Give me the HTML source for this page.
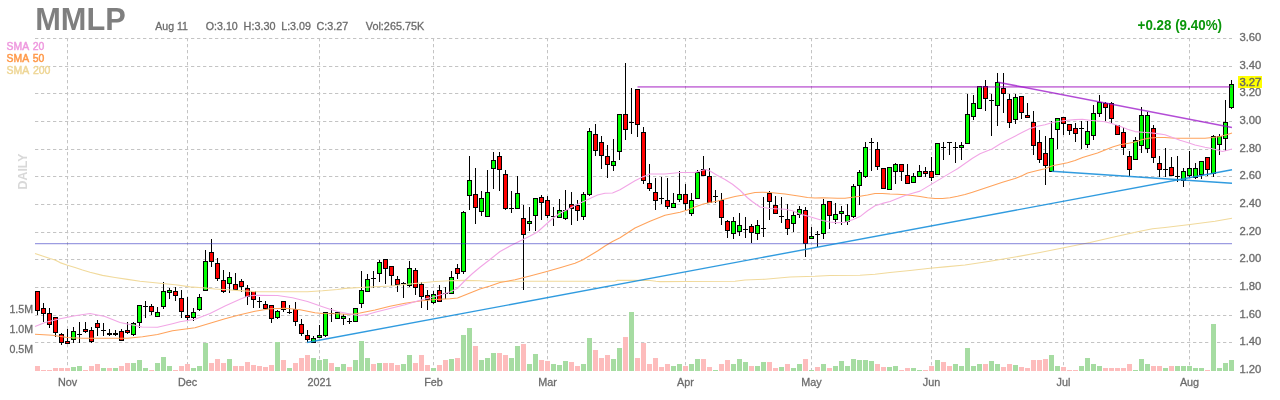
<!DOCTYPE html>
<html lang="en"><head><meta charset="utf-8"><title>MMLP daily chart</title>
<style>html,body{margin:0;padding:0;background:#fff}svg{display:block}text{font-family:"Liberation Sans",Arial,Helvetica,sans-serif}.ax{font-size:10px;fill:#6e6e6e}.hd{font-size:10.3px;fill:#6e6e6e}.g{stroke:#c4c4c4;stroke-width:1;stroke-dasharray:3.3 2.7;fill:none}.w{stroke:#000;stroke-width:1}.cg{fill:#00ff00;stroke:#000;stroke-width:1}.cr{fill:#ff0000;stroke:#000;stroke-width:1}.cd{fill:#000;stroke:#000;stroke-width:1}.vg{fill:#a6dca2}.vp{fill:#fdbcbc}</style></head><body>
<svg width="1280" height="400" viewBox="0 0 1280 400">
<rect width="1280" height="400" fill="#ffffff"/>
<g class="g">
<path d="M35 38.5 H1232"/>
<path d="M35 66.5 H1232"/>
<path d="M35 93.5 H1232"/>
<path d="M35 121.5 H1232"/>
<path d="M35 149.5 H1232"/>
<path d="M35 176.5 H1232"/>
<path d="M35 204.5 H1232"/>
<path d="M35 232.5 H1232"/>
<path d="M35 259.5 H1232"/>
<path d="M35 287.5 H1232"/>
<path d="M35 315.5 H1232"/>
<path d="M35 342.5 H1232"/>
<path d="M67.5 38 V371"/>
<path d="M187.5 38 V371"/>
<path d="M319.5 38 V371"/>
<path d="M433.5 38 V371"/>
<path d="M547.5 38 V371"/>
<path d="M685.5 38 V371"/>
<path d="M811.5 38 V371"/>
<path d="M931.5 38 V371"/>
<path d="M1063.5 38 V371"/>
<path d="M1189.5 38 V371"/>
</g>
<g>
<rect class="vp" x="35" y="366" width="5" height="5"/>
<rect class="vp" x="41" y="370" width="5" height="1"/>
<rect class="vp" x="47" y="370" width="5" height="1"/>
<rect class="vp" x="53" y="368" width="5" height="3"/>
<rect class="vp" x="59" y="368" width="5" height="3"/>
<rect class="vp" x="65" y="368" width="5" height="3"/>
<rect class="vg" x="71" y="367" width="5" height="4"/>
<rect class="vg" x="77" y="366" width="5" height="5"/>
<rect class="vp" x="83" y="370" width="5" height="1"/>
<rect class="vp" x="89" y="366" width="5" height="5"/>
<rect class="vp" x="95" y="364" width="5" height="7"/>
<rect class="vg" x="101" y="368" width="5" height="3"/>
<rect class="vp" x="107" y="368" width="5" height="3"/>
<rect class="vg" x="113" y="368" width="5" height="3"/>
<rect class="vp" x="119" y="366" width="5" height="5"/>
<rect class="vp" x="125" y="363" width="5" height="8"/>
<rect class="vg" x="131" y="363" width="5" height="8"/>
<rect class="vg" x="137" y="360" width="5" height="11"/>
<rect class="vg" x="143" y="368" width="5" height="3"/>
<rect class="vp" x="149" y="370" width="5" height="1"/>
<rect class="vg" x="155" y="363" width="5" height="8"/>
<rect class="vg" x="161" y="357" width="5" height="14"/>
<rect class="vg" x="167" y="366" width="5" height="5"/>
<rect class="vp" x="173" y="370" width="5" height="1"/>
<rect class="vp" x="179" y="366" width="5" height="5"/>
<rect class="vp" x="185" y="364" width="5" height="7"/>
<rect class="vg" x="191" y="368" width="5" height="3"/>
<rect class="vg" x="197" y="366" width="5" height="5"/>
<rect class="vg" x="203" y="343" width="5" height="28"/>
<rect class="vp" x="209" y="363" width="5" height="8"/>
<rect class="vp" x="215" y="359" width="5" height="12"/>
<rect class="vp" x="221" y="363" width="5" height="8"/>
<rect class="vg" x="227" y="359" width="5" height="12"/>
<rect class="vp" x="233" y="366" width="5" height="5"/>
<rect class="vp" x="239" y="366" width="5" height="5"/>
<rect class="vp" x="245" y="362" width="5" height="9"/>
<rect class="vp" x="251" y="365" width="5" height="6"/>
<rect class="vp" x="257" y="366" width="5" height="5"/>
<rect class="vp" x="263" y="367" width="5" height="4"/>
<rect class="vp" x="269" y="365" width="5" height="6"/>
<rect class="vg" x="275" y="342" width="5" height="29"/>
<rect class="vp" x="281" y="360" width="5" height="11"/>
<rect class="vg" x="287" y="368" width="5" height="3"/>
<rect class="vp" x="293" y="363" width="5" height="8"/>
<rect class="vp" x="299" y="358" width="5" height="13"/>
<rect class="vp" x="305" y="355" width="5" height="16"/>
<rect class="vg" x="311" y="358" width="5" height="13"/>
<rect class="vg" x="317" y="360" width="5" height="11"/>
<rect class="vg" x="323" y="359" width="5" height="12"/>
<rect class="vp" x="329" y="363" width="5" height="8"/>
<rect class="vg" x="335" y="367" width="5" height="4"/>
<rect class="vg" x="341" y="364" width="5" height="7"/>
<rect class="vp" x="347" y="367" width="5" height="4"/>
<rect class="vg" x="353" y="360" width="5" height="11"/>
<rect class="vg" x="359" y="341" width="5" height="30"/>
<rect class="vg" x="365" y="358" width="5" height="13"/>
<rect class="vp" x="371" y="364" width="5" height="7"/>
<rect class="vg" x="377" y="363" width="5" height="8"/>
<rect class="vp" x="383" y="363" width="5" height="8"/>
<rect class="vp" x="389" y="363" width="5" height="8"/>
<rect class="vp" x="395" y="365" width="5" height="6"/>
<rect class="vg" x="401" y="364" width="5" height="7"/>
<rect class="vg" x="407" y="355" width="5" height="16"/>
<rect class="vp" x="413" y="363" width="5" height="8"/>
<rect class="vp" x="419" y="355" width="5" height="16"/>
<rect class="vp" x="425" y="365" width="5" height="6"/>
<rect class="vg" x="431" y="368" width="5" height="3"/>
<rect class="vp" x="437" y="365" width="5" height="6"/>
<rect class="vp" x="443" y="360" width="5" height="11"/>
<rect class="vg" x="449" y="359" width="5" height="12"/>
<rect class="vp" x="455" y="358" width="5" height="13"/>
<rect class="vg" x="461" y="335" width="5" height="36"/>
<rect class="vg" x="467" y="328" width="5" height="43"/>
<rect class="vp" x="473" y="346" width="5" height="25"/>
<rect class="vg" x="479" y="360" width="5" height="11"/>
<rect class="vg" x="485" y="358" width="5" height="13"/>
<rect class="vg" x="491" y="353" width="5" height="18"/>
<rect class="vp" x="497" y="353" width="5" height="18"/>
<rect class="vp" x="503" y="355" width="5" height="16"/>
<rect class="vg" x="509" y="358" width="5" height="13"/>
<rect class="vg" x="515" y="346" width="5" height="25"/>
<rect class="vp" x="521" y="344" width="5" height="27"/>
<rect class="vg" x="527" y="364" width="5" height="7"/>
<rect class="vg" x="533" y="354" width="5" height="17"/>
<rect class="vp" x="539" y="360" width="5" height="11"/>
<rect class="vp" x="545" y="361" width="5" height="10"/>
<rect class="vg" x="551" y="364" width="5" height="7"/>
<rect class="vg" x="557" y="365" width="5" height="6"/>
<rect class="vg" x="563" y="361" width="5" height="10"/>
<rect class="vp" x="569" y="362" width="5" height="9"/>
<rect class="vp" x="575" y="366" width="5" height="5"/>
<rect class="vg" x="581" y="364" width="5" height="7"/>
<rect class="vg" x="587" y="338" width="5" height="33"/>
<rect class="vp" x="593" y="350" width="5" height="21"/>
<rect class="vp" x="599" y="358" width="5" height="13"/>
<rect class="vp" x="605" y="355" width="5" height="16"/>
<rect class="vg" x="611" y="359" width="5" height="12"/>
<rect class="vg" x="617" y="348" width="5" height="23"/>
<rect class="vp" x="623" y="337" width="5" height="34"/>
<rect class="vg" x="629" y="312" width="5" height="59"/>
<rect class="vp" x="635" y="358" width="5" height="13"/>
<rect class="vp" x="641" y="343" width="5" height="28"/>
<rect class="vp" x="647" y="364" width="5" height="7"/>
<rect class="vp" x="653" y="358" width="5" height="13"/>
<rect class="vp" x="659" y="367" width="5" height="4"/>
<rect class="vp" x="665" y="364" width="5" height="7"/>
<rect class="vg" x="671" y="366" width="5" height="5"/>
<rect class="vg" x="677" y="364" width="5" height="7"/>
<rect class="vp" x="683" y="366" width="5" height="5"/>
<rect class="vg" x="689" y="364" width="5" height="7"/>
<rect class="vg" x="695" y="359" width="5" height="12"/>
<rect class="vp" x="701" y="359" width="5" height="12"/>
<rect class="vp" x="707" y="367" width="5" height="4"/>
<rect class="vg" x="713" y="370" width="5" height="1"/>
<rect class="vp" x="719" y="364" width="5" height="7"/>
<rect class="vp" x="725" y="360" width="5" height="11"/>
<rect class="vg" x="731" y="364" width="5" height="7"/>
<rect class="vg" x="737" y="359" width="5" height="12"/>
<rect class="vg" x="743" y="362" width="5" height="9"/>
<rect class="vp" x="749" y="366" width="5" height="5"/>
<rect class="vg" x="755" y="366" width="5" height="5"/>
<rect class="vg" x="761" y="362" width="5" height="9"/>
<rect class="vp" x="767" y="362" width="5" height="9"/>
<rect class="vp" x="773" y="368" width="5" height="3"/>
<rect class="vg" x="779" y="367" width="5" height="4"/>
<rect class="vp" x="785" y="364" width="5" height="7"/>
<rect class="vg" x="791" y="368" width="5" height="3"/>
<rect class="vg" x="797" y="364" width="5" height="7"/>
<rect class="vp" x="803" y="359" width="5" height="12"/>
<rect class="vg" x="809" y="370" width="5" height="1"/>
<rect class="vp" x="815" y="367" width="5" height="4"/>
<rect class="vg" x="821" y="364" width="5" height="7"/>
<rect class="vp" x="827" y="368" width="5" height="3"/>
<rect class="vg" x="833" y="366" width="5" height="5"/>
<rect class="vg" x="839" y="361" width="5" height="10"/>
<rect class="vg" x="845" y="366" width="5" height="5"/>
<rect class="vg" x="851" y="359" width="5" height="12"/>
<rect class="vg" x="857" y="360" width="5" height="11"/>
<rect class="vg" x="863" y="360" width="5" height="11"/>
<rect class="vg" x="869" y="361" width="5" height="10"/>
<rect class="vp" x="875" y="364" width="5" height="7"/>
<rect class="vp" x="881" y="367" width="5" height="4"/>
<rect class="vg" x="887" y="367" width="5" height="4"/>
<rect class="vg" x="893" y="366" width="5" height="5"/>
<rect class="vp" x="899" y="370" width="5" height="1"/>
<rect class="vp" x="905" y="368" width="5" height="3"/>
<rect class="vg" x="911" y="368" width="5" height="3"/>
<rect class="vg" x="917" y="370" width="5" height="1"/>
<rect class="vp" x="923" y="370" width="5" height="1"/>
<rect class="vp" x="929" y="366" width="5" height="5"/>
<rect class="vg" x="935" y="360" width="5" height="11"/>
<rect class="vp" x="941" y="362" width="5" height="9"/>
<rect class="vp" x="947" y="366" width="5" height="5"/>
<rect class="vg" x="953" y="364" width="5" height="7"/>
<rect class="vg" x="959" y="366" width="5" height="5"/>
<rect class="vg" x="965" y="348" width="5" height="23"/>
<rect class="vg" x="971" y="366" width="5" height="5"/>
<rect class="vg" x="977" y="364" width="5" height="7"/>
<rect class="vp" x="983" y="364" width="5" height="7"/>
<rect class="vg" x="989" y="361" width="5" height="10"/>
<rect class="vg" x="995" y="364" width="5" height="7"/>
<rect class="vp" x="1001" y="367" width="5" height="4"/>
<rect class="vp" x="1007" y="364" width="5" height="7"/>
<rect class="vg" x="1013" y="365" width="5" height="6"/>
<rect class="vp" x="1019" y="367" width="5" height="4"/>
<rect class="vp" x="1025" y="368" width="5" height="3"/>
<rect class="vp" x="1031" y="360" width="5" height="11"/>
<rect class="vp" x="1037" y="360" width="5" height="11"/>
<rect class="vp" x="1043" y="359" width="5" height="12"/>
<rect class="vg" x="1049" y="355" width="5" height="16"/>
<rect class="vg" x="1055" y="366" width="5" height="5"/>
<rect class="vp" x="1061" y="367" width="5" height="4"/>
<rect class="vp" x="1067" y="370" width="5" height="1"/>
<rect class="vp" x="1073" y="370" width="5" height="1"/>
<rect class="vg" x="1079" y="366" width="5" height="5"/>
<rect class="vg" x="1085" y="358" width="5" height="13"/>
<rect class="vg" x="1091" y="364" width="5" height="7"/>
<rect class="vg" x="1097" y="366" width="5" height="5"/>
<rect class="vp" x="1103" y="368" width="5" height="3"/>
<rect class="vp" x="1109" y="368" width="5" height="3"/>
<rect class="vp" x="1115" y="368" width="5" height="3"/>
<rect class="vp" x="1121" y="368" width="5" height="3"/>
<rect class="vp" x="1127" y="364" width="5" height="7"/>
<rect class="vg" x="1133" y="370" width="5" height="1"/>
<rect class="vg" x="1139" y="359" width="5" height="12"/>
<rect class="vg" x="1145" y="364" width="5" height="7"/>
<rect class="vp" x="1151" y="366" width="5" height="5"/>
<rect class="vp" x="1157" y="366" width="5" height="5"/>
<rect class="vg" x="1163" y="368" width="5" height="3"/>
<rect class="vp" x="1169" y="366" width="5" height="5"/>
<rect class="vg" x="1175" y="366" width="5" height="5"/>
<rect class="vg" x="1181" y="366" width="5" height="5"/>
<rect class="vg" x="1187" y="366" width="5" height="5"/>
<rect class="vg" x="1193" y="368" width="5" height="3"/>
<rect class="vg" x="1199" y="368" width="5" height="3"/>
<rect class="vp" x="1205" y="370" width="5" height="1"/>
<rect class="vg" x="1211" y="324" width="5" height="47"/>
<rect class="vg" x="1217" y="368" width="5" height="3"/>
<rect class="vg" x="1223" y="363" width="5" height="8"/>
<rect class="vg" x="1229" y="360" width="5" height="11"/>
</g>
<g shape-rendering="crispEdges">
<path class="w" d="M37.5 291 V315"/>
<rect class="cr" x="35.5" y="291.5" width="4" height="19"/>
<path class="w" d="M43.5 303 V322"/>
<rect class="cr" x="41.5" y="308.5" width="4" height="5"/>
<path class="w" d="M49.5 308 V328"/>
<rect class="cr" x="47.5" y="313.5" width="4" height="11"/>
<path class="w" d="M55.5 317 V337"/>
<rect class="cr" x="53.5" y="317.5" width="4" height="15"/>
<path class="w" d="M61.5 333 V345"/>
<rect class="cr" x="59.5" y="334.5" width="4" height="8"/>
<path class="w" d="M67.5 329 V344"/>
<rect class="cr" x="65.5" y="341.5" width="4" height="2"/>
<path class="w" d="M73.5 327 V343"/>
<rect class="cg" x="71.5" y="331.5" width="4" height="8"/>
<path class="w" d="M79.5 322 V343"/>
<rect x="77" y="334" width="5" height="1" fill="#000"/>
<path class="w" d="M85.5 322 V333"/>
<rect class="cr" x="83.5" y="329.5" width="4" height="2"/>
<path class="w" d="M91.5 327 V343"/>
<rect class="cr" x="89.5" y="330.5" width="4" height="11"/>
<path class="w" d="M97.5 320 V336"/>
<rect class="cr" x="95.5" y="323.5" width="4" height="4"/>
<path class="w" d="M103.5 323 V336"/>
<rect x="101" y="330" width="5" height="1" fill="#000"/>
<path class="w" d="M109.5 329 V336"/>
<rect x="107" y="333" width="5" height="2" fill="#000"/>
<path class="w" d="M115.5 330 V336"/>
<rect x="113" y="333" width="5" height="2" fill="#000"/>
<path class="w" d="M121.5 329 V341"/>
<rect class="cr" x="119.5" y="331.5" width="4" height="9"/>
<path class="w" d="M127.5 322 V334"/>
<rect class="cr" x="125.5" y="330.5" width="4" height="2"/>
<path class="w" d="M133.5 322 V336"/>
<rect class="cg" x="131.5" y="323.5" width="4" height="11"/>
<path class="w" d="M139.5 305 V328"/>
<rect class="cg" x="137.5" y="305.5" width="4" height="17"/>
<path class="w" d="M145.5 301 V318"/>
<rect x="143" y="306" width="5" height="1" fill="#000"/>
<path class="w" d="M151.5 304 V315"/>
<rect class="cr" x="149.5" y="306.5" width="4" height="5"/>
<path class="w" d="M157.5 307 V317"/>
<rect class="cg" x="155.5" y="312.5" width="4" height="4"/>
<path class="w" d="M163.5 282 V309"/>
<rect class="cg" x="161.5" y="291.5" width="4" height="15"/>
<path class="w" d="M169.5 288 V299"/>
<rect class="cg" x="167.5" y="290.5" width="4" height="2"/>
<path class="w" d="M175.5 287 V301"/>
<rect class="cr" x="173.5" y="291.5" width="4" height="4"/>
<path class="w" d="M181.5 290 V318"/>
<rect class="cr" x="179.5" y="298.5" width="4" height="13"/>
<path class="w" d="M187.5 297 V321"/>
<rect class="cr" x="185.5" y="315.5" width="4" height="2"/>
<path class="w" d="M193.5 308 V321"/>
<rect class="cg" x="191.5" y="312.5" width="4" height="5"/>
<path class="w" d="M199.5 294 V311"/>
<rect class="cg" x="197.5" y="297.5" width="4" height="12"/>
<path class="w" d="M205.5 250 V291"/>
<rect class="cg" x="203.5" y="261.5" width="4" height="29"/>
<path class="w" d="M211.5 239 V267"/>
<rect class="cr" x="209.5" y="252.5" width="4" height="9"/>
<path class="w" d="M217.5 258 V281"/>
<rect class="cr" x="215.5" y="263.5" width="4" height="15"/>
<path class="w" d="M223.5 270 V293"/>
<rect class="cr" x="221.5" y="280.5" width="4" height="11"/>
<path class="w" d="M229.5 272 V293"/>
<rect class="cg" x="227.5" y="277.5" width="4" height="6"/>
<path class="w" d="M235.5 273 V290"/>
<rect class="cr" x="233.5" y="284.5" width="4" height="5"/>
<path class="w" d="M241.5 279 V292"/>
<rect class="cr" x="239.5" y="281.5" width="4" height="5"/>
<path class="w" d="M247.5 285 V305"/>
<rect class="cr" x="245.5" y="288.5" width="4" height="8"/>
<path class="w" d="M253.5 291 V308"/>
<rect class="cr" x="251.5" y="291.5" width="4" height="8"/>
<path class="w" d="M259.5 297 V308"/>
<rect x="257" y="301" width="5" height="1" fill="#000"/>
<path class="w" d="M265.5 301 V309"/>
<rect class="cr" x="263.5" y="304.5" width="4" height="4"/>
<path class="w" d="M271.5 305 V323"/>
<rect class="cr" x="269.5" y="305.5" width="4" height="13"/>
<path class="w" d="M277.5 310 V319"/>
<rect class="cg" x="275.5" y="311.5" width="4" height="6"/>
<path class="w" d="M283.5 301 V312"/>
<rect class="cr" x="281.5" y="301.5" width="4" height="8"/>
<path class="w" d="M289.5 305 V314"/>
<rect x="287" y="312" width="5" height="1" fill="#000"/>
<path class="w" d="M295.5 302 V326"/>
<rect class="cr" x="293.5" y="309.5" width="4" height="12"/>
<path class="w" d="M301.5 319 V336"/>
<rect class="cr" x="299.5" y="324.5" width="4" height="9"/>
<path class="w" d="M307.5 330 V342"/>
<rect class="cr" x="305.5" y="335.5" width="4" height="4"/>
<path class="w" d="M313.5 336 V343"/>
<rect class="cg" x="311.5" y="338.5" width="4" height="4"/>
<path class="w" d="M319.5 325 V338"/>
<rect class="cg" x="317.5" y="335.5" width="4" height="2"/>
<path class="w" d="M325.5 312 V337"/>
<rect class="cg" x="323.5" y="312.5" width="4" height="23"/>
<path class="w" d="M331.5 308 V322"/>
<rect x="329" y="313" width="5" height="1" fill="#000"/>
<path class="w" d="M337.5 312 V319"/>
<rect class="cg" x="335.5" y="312.5" width="4" height="6"/>
<path class="w" d="M343.5 314 V325"/>
<rect class="cg" x="341.5" y="316.5" width="4" height="2"/>
<path class="w" d="M349.5 318 V324"/>
<rect x="347" y="321" width="5" height="1" fill="#000"/>
<path class="w" d="M355.5 308 V322"/>
<rect class="cg" x="353.5" y="308.5" width="4" height="13"/>
<path class="w" d="M361.5 271 V308"/>
<rect class="cg" x="359.5" y="290.5" width="4" height="13"/>
<path class="w" d="M367.5 274 V292"/>
<rect class="cg" x="365.5" y="279.5" width="4" height="12"/>
<path class="w" d="M373.5 271 V288"/>
<rect x="371" y="278" width="5" height="1" fill="#000"/>
<path class="w" d="M379.5 260 V282"/>
<rect class="cg" x="377.5" y="262.5" width="4" height="11"/>
<path class="w" d="M385.5 259 V284"/>
<rect class="cr" x="383.5" y="259.5" width="4" height="9"/>
<path class="w" d="M391.5 266 V286"/>
<rect class="cr" x="389.5" y="266.5" width="4" height="9"/>
<path class="w" d="M397.5 276 V292"/>
<rect class="cr" x="395.5" y="279.5" width="4" height="5"/>
<path class="w" d="M403.5 282 V298"/>
<rect x="401" y="283" width="5" height="1" fill="#000"/>
<path class="w" d="M409.5 261 V287"/>
<rect class="cg" x="407.5" y="268.5" width="4" height="17"/>
<path class="w" d="M415.5 268 V295"/>
<rect class="cr" x="413.5" y="270.5" width="4" height="17"/>
<path class="w" d="M421.5 282 V308"/>
<rect class="cr" x="419.5" y="284.5" width="4" height="12"/>
<path class="w" d="M427.5 290 V310"/>
<rect class="cr" x="425.5" y="295.5" width="4" height="4"/>
<path class="w" d="M433.5 291 V304"/>
<rect class="cg" x="431.5" y="294.5" width="4" height="8"/>
<path class="w" d="M439.5 285 V302"/>
<rect class="cr" x="437.5" y="290.5" width="4" height="11"/>
<path class="w" d="M445.5 287 V299"/>
<rect x="443" y="293" width="5" height="1" fill="#000"/>
<path class="w" d="M451.5 271 V294"/>
<rect class="cg" x="449.5" y="277.5" width="4" height="16"/>
<path class="w" d="M457.5 264 V279"/>
<rect class="cr" x="455.5" y="268.5" width="4" height="5"/>
<path class="w" d="M463.5 211 V274"/>
<rect class="cg" x="461.5" y="212.5" width="4" height="59"/>
<path class="w" d="M469.5 156 V210"/>
<rect class="cg" x="467.5" y="180.5" width="4" height="15"/>
<path class="w" d="M475.5 168 V224"/>
<rect class="cr" x="473.5" y="194.5" width="4" height="13"/>
<path class="w" d="M481.5 191 V216"/>
<rect class="cg" x="479.5" y="198.5" width="4" height="13"/>
<path class="w" d="M487.5 170 V217"/>
<rect class="cg" x="485.5" y="192.5" width="4" height="24"/>
<path class="w" d="M493.5 152 V189"/>
<rect class="cg" x="491.5" y="160.5" width="4" height="8"/>
<path class="w" d="M499.5 152 V191"/>
<rect class="cr" x="497.5" y="156.5" width="4" height="13"/>
<path class="w" d="M505.5 170 V210"/>
<rect class="cr" x="503.5" y="174.5" width="4" height="34"/>
<path class="w" d="M511.5 191 V213"/>
<rect x="509" y="208" width="5" height="1" fill="#000"/>
<path class="w" d="M517.5 176 V209"/>
<rect class="cg" x="515.5" y="193.5" width="4" height="15"/>
<path class="w" d="M523.5 205 V290"/>
<rect class="cr" x="521.5" y="218.5" width="4" height="16"/>
<path class="w" d="M529.5 207 V231"/>
<rect class="cg" x="527.5" y="221.5" width="4" height="2"/>
<path class="w" d="M535.5 198 V231"/>
<rect class="cg" x="533.5" y="198.5" width="4" height="17"/>
<path class="w" d="M541.5 195 V220"/>
<rect class="cr" x="539.5" y="197.5" width="4" height="5"/>
<path class="w" d="M547.5 196 V218"/>
<rect class="cr" x="545.5" y="200.5" width="4" height="15"/>
<path class="w" d="M553.5 207 V226"/>
<rect x="551" y="216" width="5" height="1" fill="#000"/>
<path class="w" d="M559.5 199 V218"/>
<rect class="cg" x="557.5" y="210.5" width="4" height="7"/>
<path class="w" d="M565.5 190 V220"/>
<rect class="cg" x="563.5" y="210.5" width="4" height="8"/>
<path class="w" d="M571.5 192 V225"/>
<rect class="cr" x="569.5" y="204.5" width="4" height="4"/>
<path class="w" d="M577.5 200 V221"/>
<rect class="cr" x="575.5" y="205.5" width="4" height="5"/>
<path class="w" d="M583.5 192 V220"/>
<rect class="cg" x="581.5" y="194.5" width="4" height="22"/>
<path class="w" d="M589.5 128 V196"/>
<rect class="cg" x="587.5" y="131.5" width="4" height="63"/>
<path class="w" d="M595.5 124 V156"/>
<rect class="cr" x="593.5" y="134.5" width="4" height="16"/>
<path class="w" d="M601.5 136 V169"/>
<rect class="cr" x="599.5" y="142.5" width="4" height="13"/>
<path class="w" d="M607.5 145 V178"/>
<rect class="cr" x="605.5" y="156.5" width="4" height="8"/>
<path class="w" d="M613.5 139 V171"/>
<rect class="cg" x="611.5" y="161.5" width="4" height="4"/>
<path class="w" d="M619.5 114 V160"/>
<rect class="cg" x="617.5" y="114.5" width="4" height="37"/>
<path class="w" d="M625.5 63 V140"/>
<rect class="cr" x="623.5" y="114.5" width="4" height="15"/>
<path class="w" d="M631.5 88 V134"/>
<rect x="629" y="122" width="5" height="1" fill="#000"/>
<path class="w" d="M637.5 89 V137"/>
<rect class="cr" x="635.5" y="89.5" width="4" height="35"/>
<path class="w" d="M643.5 127 V184"/>
<rect class="cr" x="641.5" y="132.5" width="4" height="48"/>
<path class="w" d="M649.5 164 V191"/>
<rect class="cr" x="647.5" y="183.5" width="4" height="5"/>
<path class="w" d="M655.5 178 V210"/>
<rect class="cr" x="653.5" y="192.5" width="4" height="8"/>
<path class="w" d="M661.5 177 V204"/>
<rect x="659" y="198" width="5" height="1" fill="#000"/>
<path class="w" d="M667.5 178 V209"/>
<rect class="cr" x="665.5" y="200.5" width="4" height="6"/>
<path class="w" d="M673.5 193 V208"/>
<rect class="cg" x="671.5" y="203.5" width="4" height="4"/>
<path class="w" d="M679.5 171 V202"/>
<rect class="cg" x="677.5" y="194.5" width="4" height="5"/>
<path class="w" d="M685.5 184 V210"/>
<rect class="cr" x="683.5" y="194.5" width="4" height="9"/>
<path class="w" d="M691.5 193 V216"/>
<rect class="cg" x="689.5" y="200.5" width="4" height="13"/>
<path class="w" d="M697.5 170 V199"/>
<rect class="cg" x="695.5" y="172.5" width="4" height="26"/>
<path class="w" d="M703.5 156 V176"/>
<rect class="cr" x="701.5" y="169.5" width="4" height="6"/>
<path class="w" d="M709.5 168 V203"/>
<rect class="cr" x="707.5" y="176.5" width="4" height="26"/>
<path class="w" d="M715.5 190 V203"/>
<rect x="713" y="196" width="5" height="1" fill="#000"/>
<path class="w" d="M721.5 193 V225"/>
<rect class="cr" x="719.5" y="200.5" width="4" height="17"/>
<path class="w" d="M727.5 220 V238"/>
<rect class="cr" x="725.5" y="221.5" width="4" height="9"/>
<path class="w" d="M733.5 217 V239"/>
<rect class="cg" x="731.5" y="221.5" width="4" height="12"/>
<path class="w" d="M739.5 213 V236"/>
<rect class="cg" x="737.5" y="225.5" width="4" height="6"/>
<path class="w" d="M745.5 217 V238"/>
<rect x="743" y="229" width="5" height="1" fill="#000"/>
<path class="w" d="M751.5 224 V243"/>
<rect class="cr" x="749.5" y="226.5" width="4" height="6"/>
<path class="w" d="M757.5 220 V240"/>
<rect class="cg" x="755.5" y="225.5" width="4" height="8"/>
<path class="w" d="M763.5 197 V237"/>
<rect x="761" y="228" width="5" height="1" fill="#000"/>
<path class="w" d="M769.5 191 V220"/>
<rect class="cr" x="767.5" y="193.5" width="4" height="8"/>
<path class="w" d="M775.5 196 V214"/>
<rect class="cr" x="773.5" y="205.5" width="4" height="8"/>
<path class="w" d="M781.5 197 V223"/>
<rect x="779" y="216" width="5" height="1" fill="#000"/>
<path class="w" d="M787.5 204 V235"/>
<rect class="cr" x="785.5" y="219.5" width="4" height="9"/>
<path class="w" d="M793.5 211 V232"/>
<rect class="cg" x="791.5" y="215.5" width="4" height="8"/>
<path class="w" d="M799.5 206 V218"/>
<rect class="cg" x="797.5" y="209.5" width="4" height="5"/>
<path class="w" d="M805.5 207 V257"/>
<rect class="cr" x="803.5" y="210.5" width="4" height="33"/>
<path class="w" d="M811.5 227 V239"/>
<rect class="cg" x="809.5" y="236.5" width="4" height="2"/>
<path class="w" d="M817.5 231 V247"/>
<rect x="815" y="234" width="5" height="1" fill="#000"/>
<path class="w" d="M823.5 199 V239"/>
<rect class="cg" x="821.5" y="204.5" width="4" height="29"/>
<path class="w" d="M829.5 201 V229"/>
<rect class="cr" x="827.5" y="201.5" width="4" height="14"/>
<path class="w" d="M835.5 203 V224"/>
<rect class="cg" x="833.5" y="214.5" width="4" height="5"/>
<path class="w" d="M841.5 206 V225"/>
<rect class="cg" x="839.5" y="211.5" width="4" height="2"/>
<path class="w" d="M847.5 204 V225"/>
<rect class="cg" x="845.5" y="215.5" width="4" height="6"/>
<path class="w" d="M853.5 184 V218"/>
<rect class="cg" x="851.5" y="186.5" width="4" height="30"/>
<path class="w" d="M859.5 170 V205"/>
<rect class="cg" x="857.5" y="172.5" width="4" height="13"/>
<path class="w" d="M865.5 142 V178"/>
<rect class="cg" x="863.5" y="147.5" width="4" height="29"/>
<path class="w" d="M871.5 138 V171"/>
<rect x="869" y="142" width="5" height="1" fill="#000"/>
<path class="w" d="M877.5 142 V170"/>
<rect class="cr" x="875.5" y="149.5" width="4" height="17"/>
<path class="w" d="M883.5 168 V189"/>
<rect class="cr" x="881.5" y="168.5" width="4" height="20"/>
<path class="w" d="M889.5 167 V190"/>
<rect class="cg" x="887.5" y="167.5" width="4" height="22"/>
<path class="w" d="M895.5 163 V184"/>
<rect class="cg" x="893.5" y="164.5" width="4" height="7"/>
<path class="w" d="M901.5 164 V181"/>
<rect class="cr" x="899.5" y="164.5" width="4" height="7"/>
<path class="w" d="M907.5 164 V184"/>
<rect class="cr" x="905.5" y="175.5" width="4" height="8"/>
<path class="w" d="M913.5 173 V183"/>
<rect class="cg" x="911.5" y="176.5" width="4" height="6"/>
<path class="w" d="M919.5 165 V177"/>
<rect class="cg" x="917.5" y="171.5" width="4" height="5"/>
<path class="w" d="M925.5 167 V177"/>
<rect class="cr" x="923.5" y="171.5" width="4" height="2"/>
<path class="w" d="M931.5 157 V181"/>
<rect class="cr" x="929.5" y="171.5" width="4" height="6"/>
<path class="w" d="M937.5 143 V175"/>
<rect class="cg" x="935.5" y="143.5" width="4" height="31"/>
<path class="w" d="M943.5 142 V160"/>
<rect x="941" y="147" width="5" height="1" fill="#000"/>
<path class="w" d="M949.5 143 V155"/>
<rect x="947" y="142" width="5" height="1" fill="#000"/>
<path class="w" d="M955.5 142 V163"/>
<rect x="953" y="147" width="5" height="1" fill="#000"/>
<path class="w" d="M961.5 142 V160"/>
<rect class="cg" x="959.5" y="145.5" width="4" height="2"/>
<path class="w" d="M967.5 94 V144"/>
<rect class="cg" x="965.5" y="114.5" width="4" height="29"/>
<path class="w" d="M973.5 95 V120"/>
<rect class="cg" x="971.5" y="103.5" width="4" height="13"/>
<path class="w" d="M979.5 86 V109"/>
<rect class="cg" x="977.5" y="86.5" width="4" height="22"/>
<path class="w" d="M985.5 80 V111"/>
<rect class="cr" x="983.5" y="86.5" width="4" height="12"/>
<path class="w" d="M991.5 94 V136"/>
<rect x="989" y="100" width="5" height="1" fill="#000"/>
<path class="w" d="M997.5 73 V126"/>
<rect class="cg" x="995.5" y="82.5" width="4" height="23"/>
<path class="w" d="M1003.5 73 V113"/>
<rect class="cr" x="1001.5" y="88.5" width="4" height="5"/>
<path class="w" d="M1009.5 94 V128"/>
<rect class="cr" x="1007.5" y="99.5" width="4" height="23"/>
<path class="w" d="M1015.5 94 V124"/>
<rect class="cg" x="1013.5" y="97.5" width="4" height="22"/>
<path class="w" d="M1021.5 96 V119"/>
<rect class="cr" x="1019.5" y="96.5" width="4" height="16"/>
<path class="w" d="M1027.5 103 V118"/>
<rect class="cr" x="1025.5" y="115.5" width="4" height="2"/>
<path class="w" d="M1033.5 111 V155"/>
<rect class="cr" x="1031.5" y="122.5" width="4" height="23"/>
<path class="w" d="M1039.5 130 V163"/>
<rect class="cr" x="1037.5" y="142.5" width="4" height="17"/>
<path class="w" d="M1045.5 136 V185"/>
<rect class="cr" x="1043.5" y="153.5" width="4" height="12"/>
<path class="w" d="M1051.5 121 V172"/>
<rect class="cg" x="1049.5" y="138.5" width="4" height="33"/>
<path class="w" d="M1057.5 118 V149"/>
<rect class="cg" x="1055.5" y="118.5" width="4" height="11"/>
<path class="w" d="M1063.5 117 V135"/>
<rect class="cr" x="1061.5" y="117.5" width="4" height="6"/>
<path class="w" d="M1069.5 124 V135"/>
<rect class="cr" x="1067.5" y="124.5" width="4" height="6"/>
<path class="w" d="M1075.5 123 V142"/>
<rect class="cr" x="1073.5" y="128.5" width="4" height="5"/>
<path class="w" d="M1081.5 121 V149"/>
<rect x="1079" y="128" width="5" height="1" fill="#000"/>
<path class="w" d="M1087.5 121 V148"/>
<rect class="cg" x="1085.5" y="131.5" width="4" height="13"/>
<path class="w" d="M1093.5 105 V140"/>
<rect class="cg" x="1091.5" y="113.5" width="4" height="22"/>
<path class="w" d="M1099.5 95 V117"/>
<rect class="cg" x="1097.5" y="102.5" width="4" height="11"/>
<path class="w" d="M1105.5 102 V121"/>
<rect class="cr" x="1103.5" y="103.5" width="4" height="4"/>
<path class="w" d="M1111.5 102 V124"/>
<rect class="cr" x="1109.5" y="103.5" width="4" height="15"/>
<path class="w" d="M1117.5 125 V135"/>
<rect class="cr" x="1115.5" y="125.5" width="4" height="9"/>
<path class="w" d="M1123.5 127 V155"/>
<rect class="cr" x="1121.5" y="132.5" width="4" height="15"/>
<path class="w" d="M1129.5 151 V176"/>
<rect class="cr" x="1127.5" y="156.5" width="4" height="13"/>
<path class="w" d="M1135.5 137 V160"/>
<rect class="cg" x="1133.5" y="140.5" width="4" height="19"/>
<path class="w" d="M1141.5 107 V153"/>
<rect class="cg" x="1139.5" y="115.5" width="4" height="30"/>
<path class="w" d="M1147.5 112 V153"/>
<rect class="cg" x="1145.5" y="115.5" width="4" height="33"/>
<path class="w" d="M1153.5 125 V163"/>
<rect class="cr" x="1151.5" y="128.5" width="4" height="29"/>
<path class="w" d="M1159.5 156 V177"/>
<rect class="cr" x="1157.5" y="163.5" width="4" height="6"/>
<path class="w" d="M1165.5 148 V177"/>
<rect x="1163" y="169" width="5" height="1" fill="#000"/>
<path class="w" d="M1171.5 157 V176"/>
<rect class="cr" x="1169.5" y="167.5" width="4" height="8"/>
<path class="w" d="M1177.5 156 V182"/>
<rect x="1175" y="176" width="5" height="1" fill="#000"/>
<path class="w" d="M1183.5 168 V187"/>
<rect class="cg" x="1181.5" y="171.5" width="4" height="9"/>
<path class="w" d="M1189.5 151 V178"/>
<rect class="cg" x="1187.5" y="168.5" width="4" height="7"/>
<path class="w" d="M1195.5 163 V179"/>
<rect class="cg" x="1193.5" y="168.5" width="4" height="9"/>
<path class="w" d="M1201.5 161 V179"/>
<rect class="cg" x="1199.5" y="161.5" width="4" height="13"/>
<path class="w" d="M1207.5 157 V176"/>
<rect class="cr" x="1205.5" y="157.5" width="4" height="12"/>
<path class="w" d="M1213.5 135 V177"/>
<rect class="cg" x="1211.5" y="136.5" width="4" height="37"/>
<path class="w" d="M1219.5 134 V155"/>
<rect class="cg" x="1217.5" y="136.5" width="4" height="8"/>
<path class="w" d="M1225.5 100 V151"/>
<rect class="cg" x="1223.5" y="122.5" width="4" height="16"/>
<path class="w" d="M1231.5 80 V109"/>
<rect class="cg" x="1229.5" y="84.5" width="4" height="23"/>
</g>
<polyline points="35,253.5 42.5,256 50,258.5 55,260 60,262.6 67.5,265.2 75,267.5 82.5,270 90,272.3 102.5,275.4 115,277.5 127.5,279.4 140,281.25 152.5,282.5 165,283.75 177.5,285 190,286.9 202.5,287.75 215,289 227.5,289.75 240,290.6 250,291.25 255,291.6 285,291.75 307.5,291.75 322.5,290.8 337.5,289.5 345,288.4 360,287.5 375,286.75 390,286 405,284.5 420,283 435,281.5 450,280.75 465,280.4 480,280.75 490,281.5 512,281.25 615,281.25 617.5,280.4 635,280.2 650,280.5 656,281.25 660,281.6 685,281.5 735,281.25 745,280 765,279.2 790,277 815,276.3 830,275.5 860,275.25 875,274.25 890,272.5 910,270.5 930,268.25 945,266.9 965,265 990,261.25 1015,257 1040,252.5 1065,247.5 1090,242.5 1115,236.75 1140,231.25 1152.5,228.75 1165,227.5 1190,224.5 1215,221.25 1232,218.25" fill="none" stroke="#f1da9c" stroke-width="1.15" stroke-opacity="1" stroke-linejoin="round"/>
<polyline points="35,334.2 52.5,335.25 67.5,337.5 82.5,338.25 97.5,338.25 112.5,338.25 127.5,338.25 142.5,336.75 157.5,334.5 172.5,330.75 180,329.7 195,327.75 210,323.25 225,318.75 240,314.8 255,311.25 270,308.7 285,308.25 300,309.75 315,312.75 322.5,313.5 337.5,313.8 345,314.2 352.5,314.2 360,313 375,310 390,306.25 405,303.25 420,301 435,299.5 450,298.75 457.5,298 465,295 472.5,292 480,289 490,286 500,282.6 515,279.75 530,276 545,272 560,267.75 575,263.25 582.5,260 590,255.5 597.5,251 605,246 612.5,241.5 620,237.75 635,228 650,221.25 665,215.25 680,212.25 687.5,210 695,207 702.5,204.3 710,202.5 717.5,201 725,199 735,196.6 742,195.3 755,192.5 762.5,192.2 770,192.5 785,194 800,196.3 807.5,197.4 815,198.1 822.5,197.8 837.5,198.2 845,198.2 852.5,197.2 860,196.3 867.5,195 875,193.5 882.5,193.4 890,194.1 897.5,194.3 905,194.75 912.5,195.5 920,196.6 927.5,197.75 935,198.5 942.5,198.5 950,197.7 957.5,196.3 965,194.6 972.5,192.2 980,189.7 987.5,187.2 995,184.7 1002.5,182.2 1010,180 1015,178.6 1022.5,175.5 1027.5,173 1037.5,170.5 1045,168.75 1052.5,165.75 1060,164.25 1067.5,162.75 1075,160.4 1082.5,157.5 1090,155.25 1097.5,153 1105,150 1112.5,147 1120,144.8 1127.5,143.4 1135,141.9 1142.5,139.6 1150,138.1 1157.5,137.4 1165,137.4 1175,138.2 1190,138.25 1205,138.2 1212.5,137.6 1220,136.4 1227.5,134.5 1232,133" fill="none" stroke="#ffa35c" stroke-width="1.05" stroke-opacity="1" stroke-linejoin="round"/>
<polyline points="35,326.5 45,322.5 60,318.75 75,315.75 90,313.5 105,316.5 120,322.5 135,325.5 142,327 157.5,327.3 172.5,323.7 180,321.75 195,319.3 210,313.5 225,306 240,299.25 247.5,296.25 255,295.3 277.5,295.5 292.5,297.75 307.5,301.5 322.5,306.75 330,309.25 337.5,311.5 345,313 352.5,314.5 360,315.6 367.5,314.5 375,312.25 390,308.5 405,304.75 420,300.25 435,296.5 450,292 457.5,288.25 465,280.5 472.5,273.5 480,267.25 490,259.5 500,251.5 510,246 521,240.5 530,236 537.5,232 545,225.25 552.5,218.5 560,213.25 567.5,209.5 575,205.5 582.5,202 590,198.5 597.5,195 605,193.3 612.5,193 620,189.75 627.5,185.25 635,180.75 642.5,177 650,174 665,174 672.5,173.25 680,172.5 695,172.4 702.5,170.25 706,169.5 710,171 717.5,175.5 725,179.5 732.5,184.25 740,190.25 747.5,197.75 752.5,201.75 760,207 770,208.5 785,209.25 792.5,210.75 800,214 807.5,216 815,218.25 822.5,220.5 830,222 837.5,222.75 845,222.3 852.5,219.75 860,216.6 867.5,210.75 875,205.75 882.5,203.4 890,201.5 897.5,198.5 905,195.5 912.5,193.3 920,191.1 927.5,186.6 935,182.1 942.5,177.6 950,173.1 957.5,168.75 965,163.5 972.5,158.25 980,153.75 987.5,150.75 992,149 1000,144 1007.5,140 1015,136.2 1022.5,132.25 1030,128.5 1037.5,126.25 1045,124.75 1052.5,122.5 1060,121.2 1067.5,120.25 1075,119.6 1082.5,119.3 1090,120.25 1097.5,121 1105,121.75 1112.5,123.7 1120,126.25 1127.5,129.25 1135,131.6 1142.5,132.25 1150,132.8 1157.5,133.6 1165,134.8 1172.5,137.5 1180,140.3 1187.5,142.5 1195,145 1205,147.25 1212.5,148.75 1217.5,150.25 1222.5,151.5 1227.5,150.25 1232,149" fill="none" stroke="#f2a6e6" stroke-width="1.1" stroke-opacity="1" stroke-linejoin="round"/>
<path d="M35 243.6 H1232" stroke="#3a3ac4" stroke-opacity="0.5" stroke-width="1.2" fill="none"/>
<path d="M637.5 86.85 H1232" stroke="#9a00bb" stroke-opacity="0.5" stroke-width="1.9" fill="none"/>
<path d="M998 82.25 L1232 127.6" stroke="#9a10c8" stroke-opacity="0.75" stroke-width="1.5" fill="none"/>
<path d="M307 342.5 L1232 169.75" stroke="#1a90dc" stroke-opacity="0.9" stroke-width="1.4" fill="none"/>
<path d="M1051.75 171.3 L1232 183.25" stroke="#1a90dc" stroke-opacity="0.9" stroke-width="1.4" fill="none"/>
<text x="35.2" y="30" font-size="31.7" fill="#7f7f7f" font-weight="bold" textLength="90.5" lengthAdjust="spacingAndGlyphs">MMLP</text>
<text x="155.3" y="30" font-size="10.5" fill="#6c6c6c" textLength="32.6" lengthAdjust="spacingAndGlyphs" stroke="#6c6c6c" stroke-width="0.3">Aug 11</text>
<text x="205.8" y="30" font-size="10.5" fill="#6c6c6c" textLength="32" lengthAdjust="spacingAndGlyphs" stroke="#6c6c6c" stroke-width="0.3">O:3.10</text>
<text x="243.6" y="30" font-size="10.5" fill="#6c6c6c" textLength="32" lengthAdjust="spacingAndGlyphs" stroke="#6c6c6c" stroke-width="0.3">H:3.30</text>
<text x="281.2" y="30" font-size="10.5" fill="#6c6c6c" textLength="29.8" lengthAdjust="spacingAndGlyphs" stroke="#6c6c6c" stroke-width="0.3">L:3.09</text>
<text x="316.5" y="30" font-size="10.5" fill="#6c6c6c" textLength="31.6" lengthAdjust="spacingAndGlyphs" stroke="#6c6c6c" stroke-width="0.3">C:3.27</text>
<text x="365.8" y="30" font-size="10.5" fill="#6c6c6c" textLength="58.4" lengthAdjust="spacingAndGlyphs" stroke="#6c6c6c" stroke-width="0.3">Vol:265.75K</text>
<text x="1222" y="29.7" font-size="14" fill="#0a960a" font-weight="bold" text-anchor="end" textLength="84.4" lengthAdjust="spacingAndGlyphs">+0.28 (9.40%)</text>
<text x="6.6" y="49.8" font-size="10" fill="#ee98de" textLength="37.6" lengthAdjust="spacingAndGlyphs" stroke="#ee98de" stroke-width="0.45" word-spacing="1.2">SMA 20</text>
<text x="6.6" y="61.8" font-size="10" fill="#ff9848" textLength="37.6" lengthAdjust="spacingAndGlyphs" stroke="#ff9848" stroke-width="0.45" word-spacing="1.2">SMA 50</text>
<text x="6.6" y="73.8" font-size="10" fill="#eed696" textLength="43.8" lengthAdjust="spacingAndGlyphs" stroke="#eed696" stroke-width="0.45" word-spacing="1.2">SMA 200</text>
<text transform="translate(27.3 171.5) rotate(-90)" font-size="12.4" font-weight="bold" fill="#d8d8d8" text-anchor="middle">DAILY</text>
<text x="9.4" y="313.2" font-size="10.3" fill="#6c6c6c" textLength="23.6" lengthAdjust="spacingAndGlyphs" stroke="#6c6c6c" stroke-width="0.3">1.5M</text>
<text x="9.4" y="333" font-size="10.3" fill="#6c6c6c" textLength="23.6" lengthAdjust="spacingAndGlyphs" stroke="#6c6c6c" stroke-width="0.3">1.0M</text>
<text x="9.4" y="353" font-size="10.3" fill="#6c6c6c" textLength="23.6" lengthAdjust="spacingAndGlyphs" stroke="#6c6c6c" stroke-width="0.3">0.5M</text>
<text x="1239.4" y="41" font-size="10.4" fill="#6c6c6c" textLength="22" lengthAdjust="spacingAndGlyphs" stroke="#6c6c6c" stroke-width="0.3">3.60</text>
<text x="1239.4" y="69" font-size="10.4" fill="#6c6c6c" textLength="22" lengthAdjust="spacingAndGlyphs" stroke="#6c6c6c" stroke-width="0.3">3.40</text>
<text x="1239.4" y="96" font-size="10.4" fill="#6c6c6c" textLength="22" lengthAdjust="spacingAndGlyphs" stroke="#6c6c6c" stroke-width="0.3">3.20</text>
<text x="1239.4" y="124" font-size="10.4" fill="#6c6c6c" textLength="22" lengthAdjust="spacingAndGlyphs" stroke="#6c6c6c" stroke-width="0.3">3.00</text>
<text x="1239.4" y="152" font-size="10.4" fill="#6c6c6c" textLength="22" lengthAdjust="spacingAndGlyphs" stroke="#6c6c6c" stroke-width="0.3">2.80</text>
<text x="1239.4" y="179" font-size="10.4" fill="#6c6c6c" textLength="22" lengthAdjust="spacingAndGlyphs" stroke="#6c6c6c" stroke-width="0.3">2.60</text>
<text x="1239.4" y="207" font-size="10.4" fill="#6c6c6c" textLength="22" lengthAdjust="spacingAndGlyphs" stroke="#6c6c6c" stroke-width="0.3">2.40</text>
<text x="1239.4" y="235" font-size="10.4" fill="#6c6c6c" textLength="22" lengthAdjust="spacingAndGlyphs" stroke="#6c6c6c" stroke-width="0.3">2.20</text>
<text x="1239.4" y="262" font-size="10.4" fill="#6c6c6c" textLength="22" lengthAdjust="spacingAndGlyphs" stroke="#6c6c6c" stroke-width="0.3">2.00</text>
<text x="1239.4" y="290" font-size="10.4" fill="#6c6c6c" textLength="22" lengthAdjust="spacingAndGlyphs" stroke="#6c6c6c" stroke-width="0.3">1.80</text>
<text x="1239.4" y="318" font-size="10.4" fill="#6c6c6c" textLength="22" lengthAdjust="spacingAndGlyphs" stroke="#6c6c6c" stroke-width="0.3">1.60</text>
<text x="1239.4" y="345" font-size="10.4" fill="#6c6c6c" textLength="22" lengthAdjust="spacingAndGlyphs" stroke="#6c6c6c" stroke-width="0.3">1.40</text>
<text x="1239.4" y="373" font-size="10.4" fill="#6c6c6c" textLength="22" lengthAdjust="spacingAndGlyphs" stroke="#6c6c6c" stroke-width="0.3">1.20</text>
<rect x="1238" y="76" width="24" height="12" fill="#ffff00"/>
<text x="1239.4" y="85.8" font-size="10.4" fill="#666" textLength="22" lengthAdjust="spacingAndGlyphs" stroke="#666" stroke-width="0.4">3.27</text>
<text x="67.5" y="386" font-size="10.8" fill="#6c6c6c" text-anchor="middle" stroke="#6c6c6c" stroke-width="0.3">Nov</text>
<text x="187.5" y="386" font-size="10.8" fill="#6c6c6c" text-anchor="middle" stroke="#6c6c6c" stroke-width="0.3">Dec</text>
<text x="319.5" y="386" font-size="10.8" fill="#6c6c6c" text-anchor="middle" stroke="#6c6c6c" stroke-width="0.3">2021</text>
<text x="433.5" y="386" font-size="10.8" fill="#6c6c6c" text-anchor="middle" stroke="#6c6c6c" stroke-width="0.3">Feb</text>
<text x="547.5" y="386" font-size="10.8" fill="#6c6c6c" text-anchor="middle" stroke="#6c6c6c" stroke-width="0.3">Mar</text>
<text x="685.5" y="386" font-size="10.8" fill="#6c6c6c" text-anchor="middle" stroke="#6c6c6c" stroke-width="0.3">Apr</text>
<text x="811.5" y="386" font-size="10.8" fill="#6c6c6c" text-anchor="middle" stroke="#6c6c6c" stroke-width="0.3">May</text>
<text x="931.5" y="386" font-size="10.8" fill="#6c6c6c" text-anchor="middle" stroke="#6c6c6c" stroke-width="0.3">Jun</text>
<text x="1063.5" y="386" font-size="10.8" fill="#6c6c6c" text-anchor="middle" stroke="#6c6c6c" stroke-width="0.3">Jul</text>
<text x="1189.5" y="386" font-size="10.8" fill="#6c6c6c" text-anchor="middle" stroke="#6c6c6c" stroke-width="0.3">Aug</text>
</svg></body></html>
